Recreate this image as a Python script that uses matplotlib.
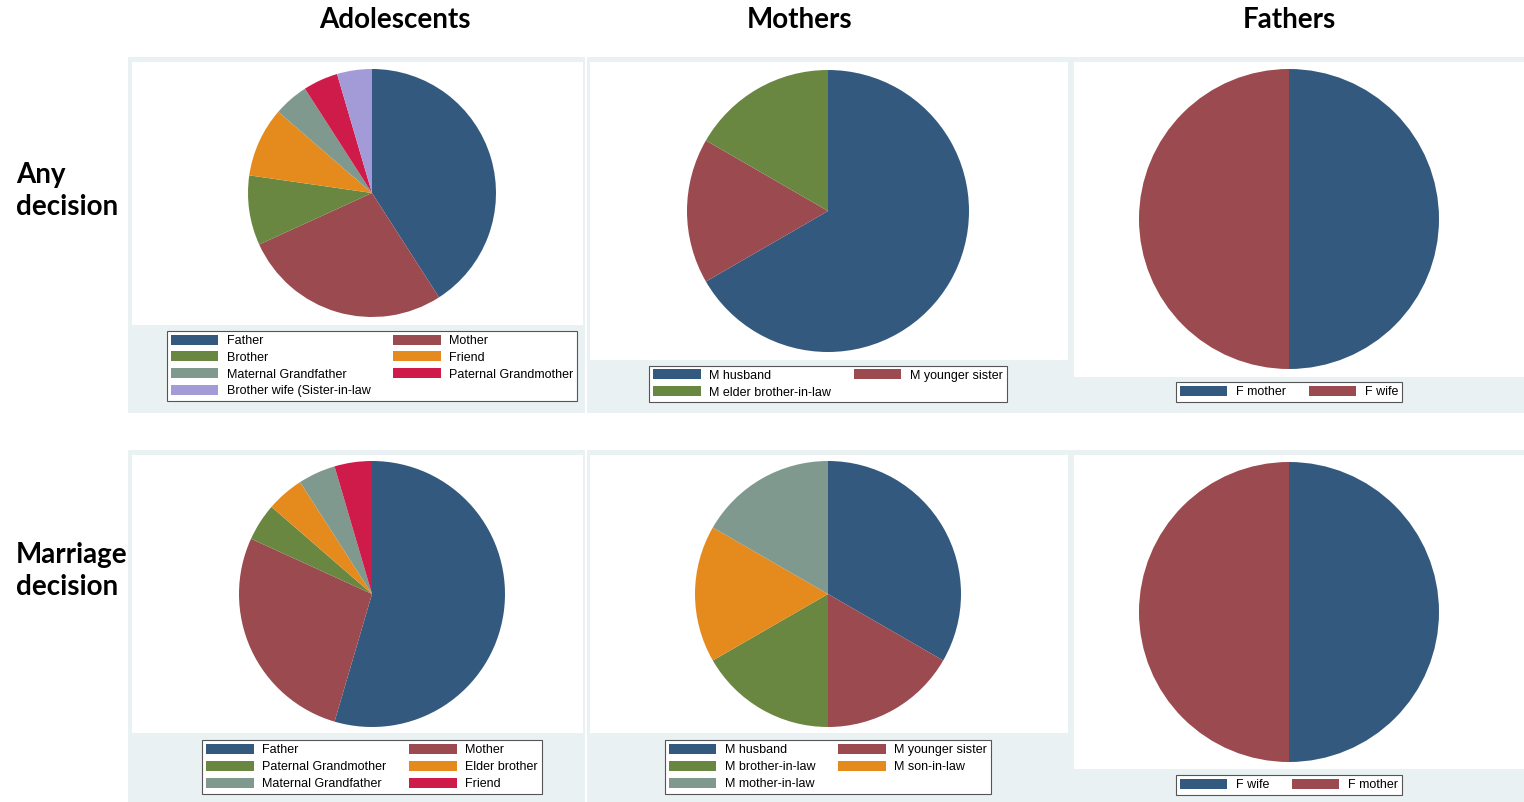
import matplotlib
matplotlib.use('Agg')
import matplotlib.pyplot as plt
from matplotlib.patches import Rectangle

# slice counts (clockwise from 12 o'clock)
adol_any_labels = ['Father', 'Mother', 'Brother', 'Friend', 'Maternal Grandfather',
                   'Paternal Grandmother', 'Brother wife (Sister-in-law']
adol_any_counts = [9, 6, 2, 2, 1, 1, 1]

moth_any_labels = ['M husband', 'M younger sister', 'M elder brother-in-law']
moth_any_counts = [4, 1, 1]

fath_any_labels = ['F mother', 'F wife']
fath_any_counts = [1, 1]

adol_mar_labels = ['Father', 'Mother', 'Paternal Grandmother', 'Elder brother',
                   'Maternal Grandfather', 'Friend']
adol_mar_counts = [12, 6, 1, 1, 1, 1]

moth_mar_labels = ['M husband', 'M younger sister', 'M brother-in-law', 'M son-in-law',
                   'M mother-in-law']
moth_mar_counts = [2, 1, 1, 1, 1]

fath_mar_labels = ['F wife', 'F mother']
fath_mar_counts = [1, 1]

col_titles = ['Adolescents', 'Mothers', 'Fathers']
row_titles = ['Any\ndecision', 'Marriage\ndecision']

# stata s2color-ish palette
palette = ['#34597e', '#9b4a4f', '#6a8741', '#e58b1d', '#7f998e', '#cf1b4a', '#a39bd8']

W, H = 1524, 802
fig = plt.figure(figsize=(W / 100, H / 100), dpi=100)
fig.patch.set_facecolor('white')


def px_rect(x, y, w, h, color, z=0):
    fig.add_artist(Rectangle((x / W, 1 - (y + h) / H), w / W, h / H,
                             transform=fig.transFigure, facecolor=color,
                             edgecolor='none', zorder=z))


# panel layout in pixels: outer box, white plot box, pie centre/radius, legend centre
panels = [
    (adol_any_labels, adol_any_counts, (128, 57, 457, 356), (132, 62, 451, 263), (372, 193, 124), (372, 366)),
    (moth_any_labels, moth_any_counts, (587, 57, 484, 356), (590, 62, 478, 298), (828, 211, 141), (828, 384)),
    (fath_any_labels, fath_any_counts, (1071, 57, 453, 356), (1074, 62, 450, 315), (1289, 219, 150), (1289, 392)),
    (adol_mar_labels, adol_mar_counts, (128, 450, 457, 352), (132, 455, 451, 278), (372, 594, 133), (372, 767)),
    (moth_mar_labels, moth_mar_counts, (587, 450, 484, 352), (590, 455, 478, 278), (828, 594, 133), (828, 767)),
    (fath_mar_labels, fath_mar_counts, (1071, 450, 453, 352), (1074, 455, 450, 314), (1289, 612, 150), (1289, 785)),
]

for labels, counts, outer, inner, pie_pos, leg_pos in panels:
    px_rect(*outer, '#eaf1f3')
    px_rect(*inner, 'white', z=1)

    cx, cy, r = pie_pos
    ax = fig.add_axes([(cx - r) / W, 1 - (cy + r) / H, 2 * r / W, 2 * r / H])
    ax.set_zorder(2)
    wedges, _ = ax.pie(counts, colors=palette[:len(counts)], startangle=90,
                       counterclock=False, radius=1,
                       wedgeprops=dict(linewidth=0))
    ax.set_xlim(-1, 1)
    ax.set_ylim(-1, 1)
    ax.axis('off')

    # stata fills legend row by row, matplotlib column by column
    n = len(labels)
    order = list(range(0, n, 2)) + list(range(1, n, 2))
    leg = fig.legend([wedges[i] for i in order], [labels[i] for i in order],
                     loc='center', bbox_to_anchor=(leg_pos[0] / W, 1 - leg_pos[1] / H),
                     bbox_transform=fig.transFigure, ncol=2,
                     prop=dict(family='Liberation Sans', size=9),
                     handlelength=3.8, handleheight=0.85, handletextpad=0.7,
                     labelspacing=0.36, columnspacing=1.8, borderpad=0.3,
                     fancybox=False, framealpha=1, edgecolor='#555555')
    leg.get_frame().set_linewidth(0.8)
    leg.set_zorder(3)

title_font = dict(family='Lato', weight='bold', size=20, color='black')
for x, t in zip([395, 800, 1289], col_titles):
    fig.text(x / W, 1 - 20 / H, t, ha='center', va='center', **title_font)

for y, t in zip([191, 571], row_titles):
    fig.text(16 / W, 1 - y / H, t, ha='left', va='center', linespacing=1.25, **title_font)

fig.savefig('out.png', dpi=100)
